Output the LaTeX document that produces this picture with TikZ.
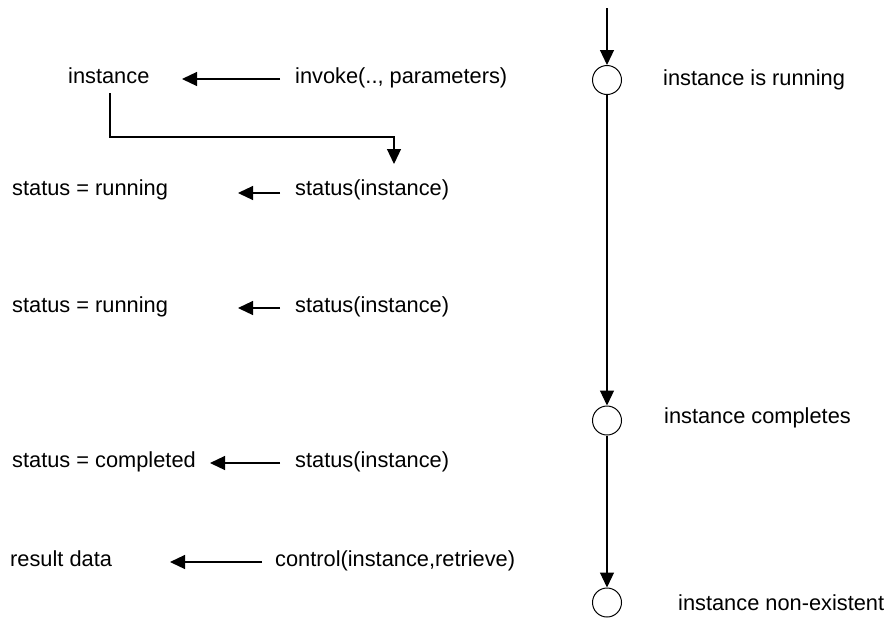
\documentclass[tikz,border=0pt]{standalone}
\usepackage{fontspec}
\setmainfont{Liberation Sans}
\usetikzlibrary{arrows.meta,calc}
\begin{document}
\begin{tikzpicture}[x=1pt,y=-1pt,
  lbl/.style={anchor=base west,inner sep=0pt,font=\fontsize{21.8}{24}\selectfont},
  arr/.style={line width=1.2pt,-{Triangle[length=15pt,width=14pt]}},
  state/.style={circle,draw,line width=1pt,minimum size=29pt,inner sep=0pt}]
\useasboundingbox (0,0) rectangle (889,619);
% left column
\node[lbl] (inst) at (68,83) {instance};
\node[lbl] (inv) at (295,83) {invoke(.., parameters)};
\node[lbl] (r1) at (12,195.5) {status = running};
\node[lbl] (s1) at (295,195.5) {status(instance)};
\node[lbl] (r2) at (12,312) {status = running};
\node[lbl] (s2) at (295,312) {status(instance)};
\node[lbl] (r3) at (12,467) {status = completed};
\node[lbl] (s3) at (295,467) {status(instance)};
\node[lbl] (rd) at (10,566) {result data};
\node[lbl] (ctl) at (275,566) {control(instance,retrieve)};
% arrow end points
\coordinate (a0s) at (280,79);   \coordinate (a0e) at (182,79);
\coordinate (a1s) at (280,193);  \coordinate (a1e) at (238,193);
\coordinate (a2s) at (280,308);  \coordinate (a2e) at (238,308);
\coordinate (a3s) at (280,463);  \coordinate (a3e) at (210,463);
\coordinate (a4s) at (262,562);  \coordinate (a4e) at (170,562);
\coordinate (e0) at (110,93);    \coordinate (e1) at (394,164);
\draw[arr] (a0s) -- (a0e);
\draw[arr] (a1s) -- (a1e);
\draw[arr] (a2s) -- (a2e);
\draw[arr] (a3s) -- (a3e);
\draw[arr] (a4s) -- (a4e);
\draw[arr] (e0) |- ($(e1)+(0,-27)$) -- (e1);
% right column
\coordinate (top) at (607,8);
\node[state] (c1) at (607,80) {};
\node[state] (c2) at (607,420.5) {};
\node[state] (c3) at (607,602.5) {};
\node[lbl] (t1) at (663,85) {instance is running};
\node[lbl] (t2) at (664,423) {instance completes};
\node[lbl] (t3) at (678,610) {instance non-existent};
\draw[arr] (top) -- (c1);
\draw[arr] (c1) -- (c2);
\draw[arr] (c2) -- (c3);
\end{tikzpicture}
\end{document}
